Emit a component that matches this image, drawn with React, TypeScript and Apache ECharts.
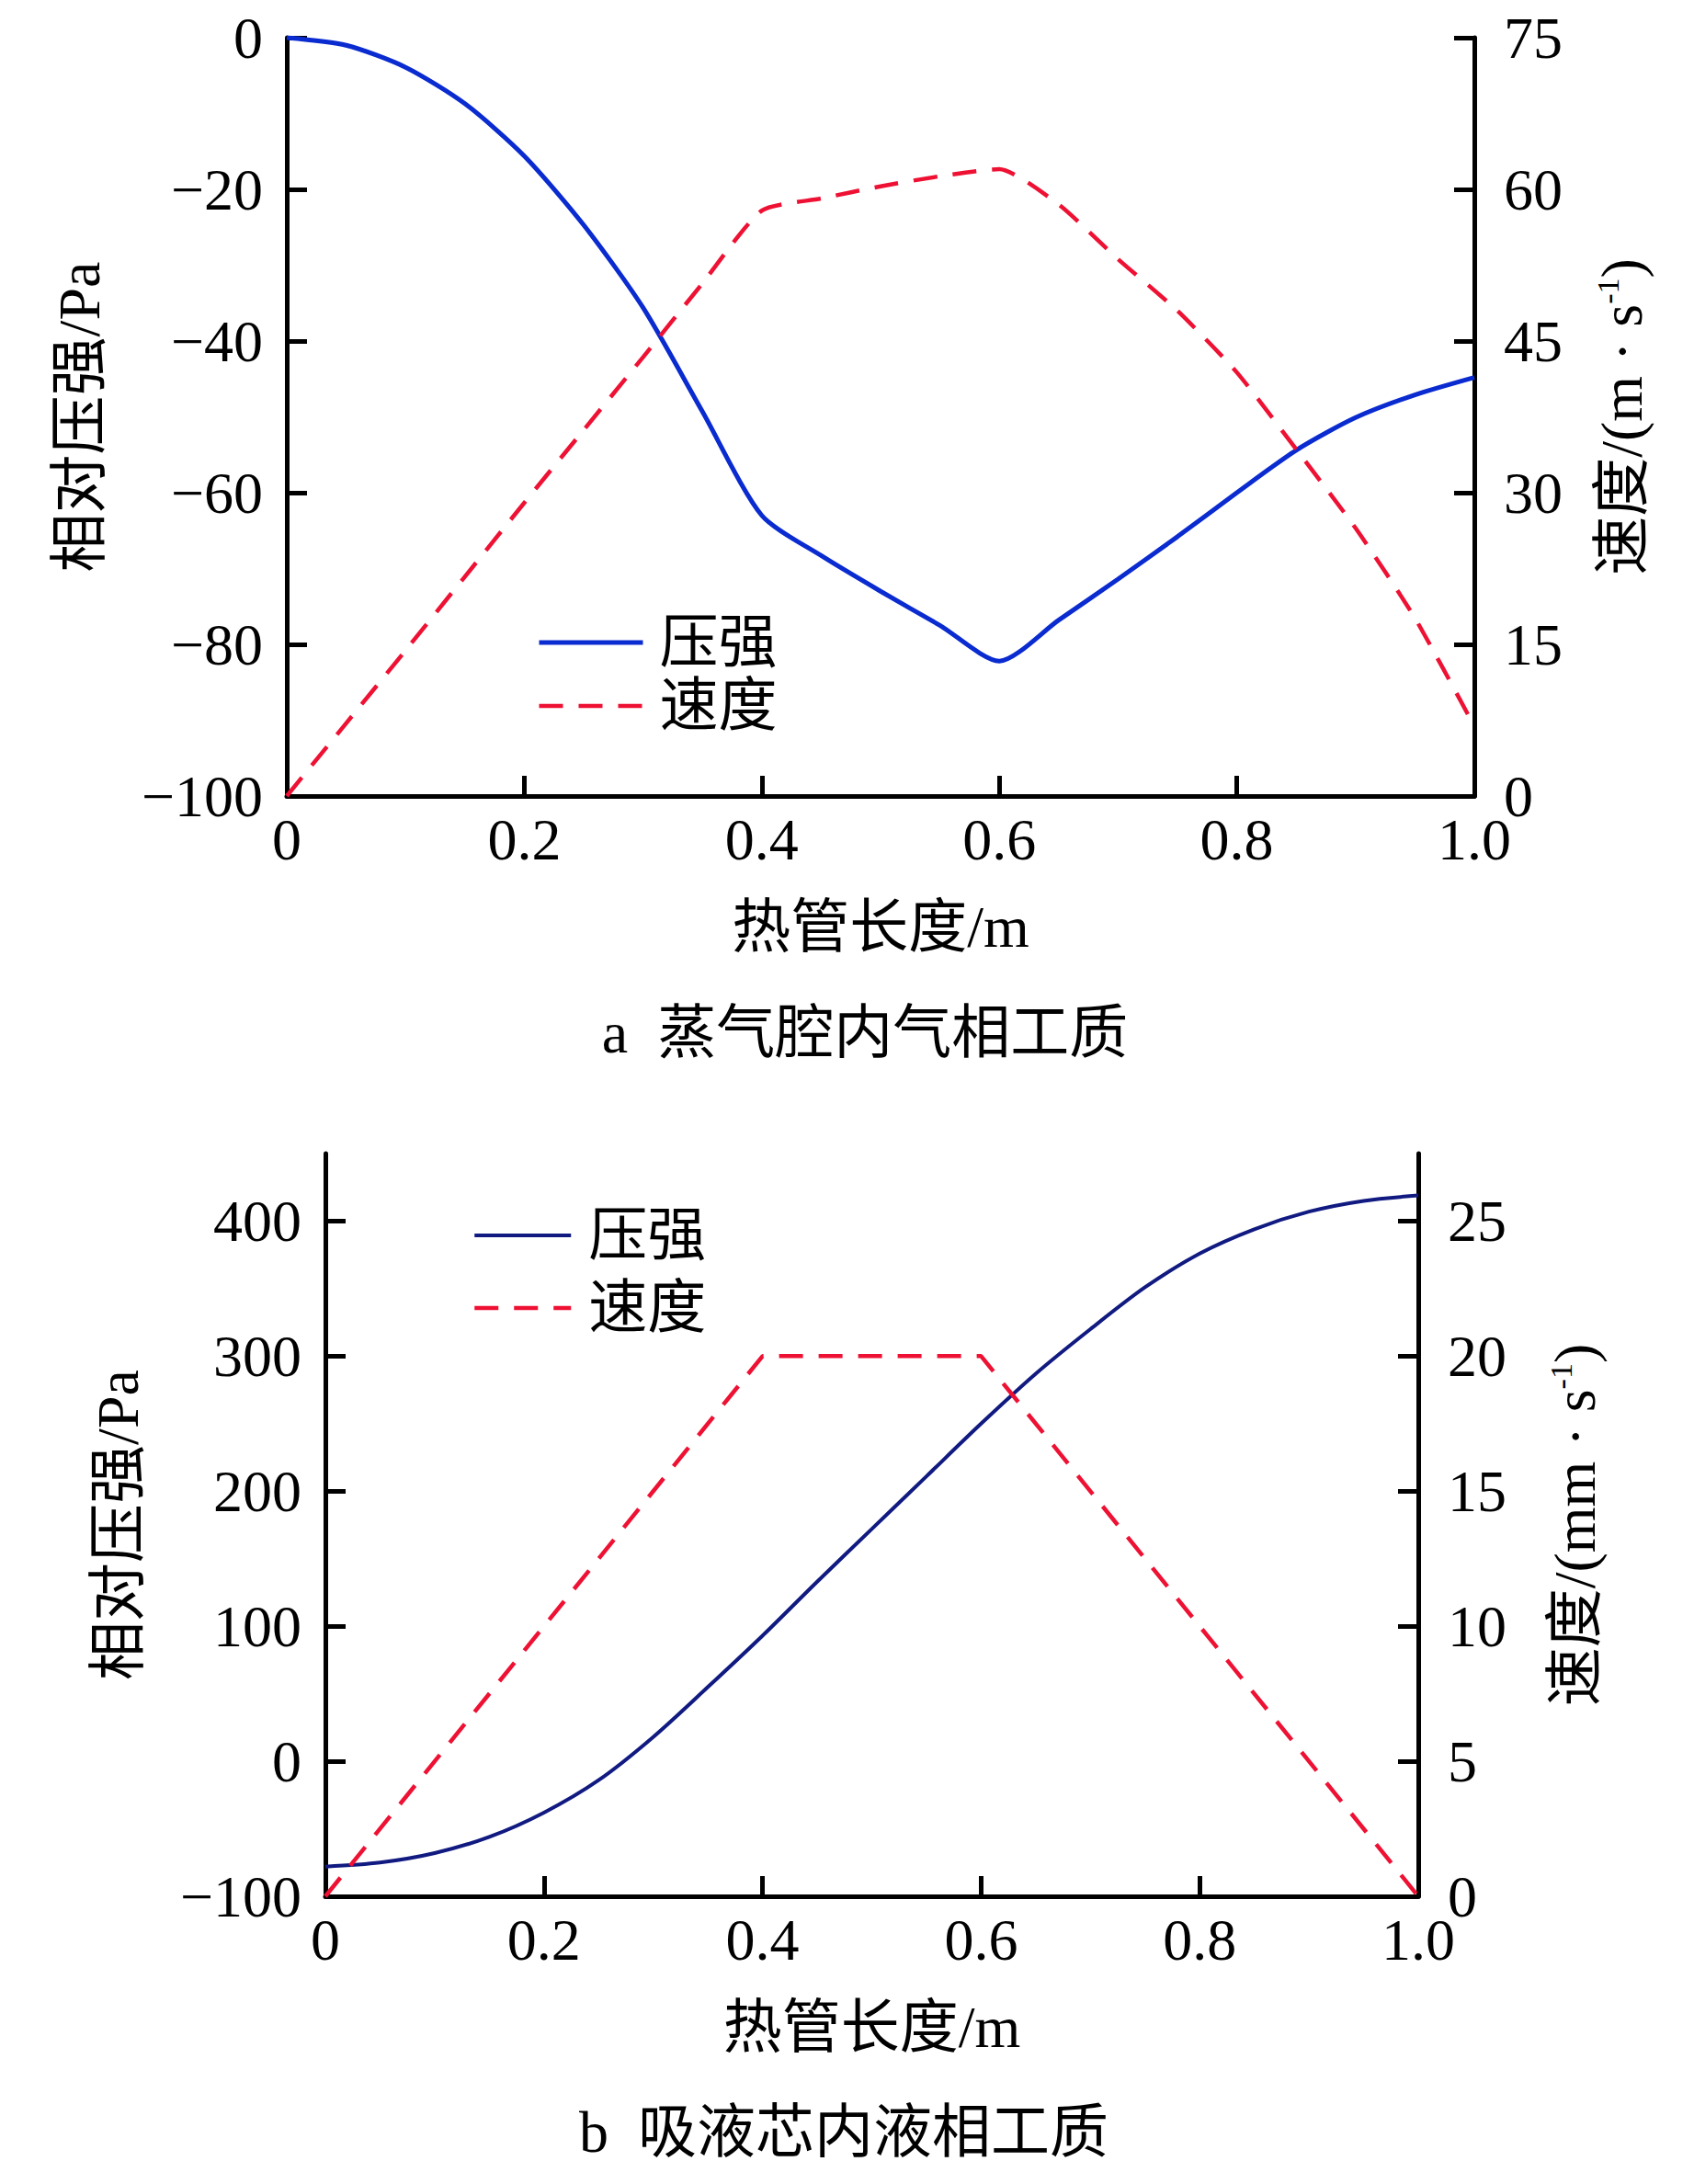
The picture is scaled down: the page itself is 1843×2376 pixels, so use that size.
import React, { useEffect, useRef } from "react";
import * as echarts from "echarts";

const FONT = "'Liberation Serif', 'Times New Roman', 'Noto Sans CJK SC', serif";

// ---- Chart a: 蒸气腔内气相工质 ----
const xA = [0, 0.05, 0.1, 0.15, 0.2, 0.25, 0.3, 0.35, 0.4, 0.45, 0.5, 0.55, 0.6, 0.65, 0.7, 0.75, 0.8, 0.85, 0.9, 0.95, 1.0];
const pressureA = [0, -1.0, -3.9, -8.7, -15.6, -24.7, -35.6, -49.3, -63.0, -68.3, -73.0, -77.5, -82.2, -76.8, -71.4, -65.8, -60.0, -54.4, -50.1, -47.1, -44.8];
const velocityA = [0, 7.2, 14.4, 21.7, 29.0, 36.2, 43.4, 50.7, 57.9, 59.1, 60.3, 61.3, 62.0, 58.5, 53.1, 48.0, 41.9, 34.3, 26.5, 17.6, 6.9];
const yTicksLeftA = [-100, -80, -60, -40, -20, 0];
const yTicksRightA = [0, 15, 30, 45, 60, 75];

// ---- Chart b: 吸液芯内液相工质 ----
const xB = [0, 0.05, 0.1, 0.15, 0.2, 0.25, 0.3, 0.35, 0.4, 0.45, 0.5, 0.55, 0.6, 0.65, 0.7, 0.75, 0.8, 0.85, 0.9, 0.95, 1.0];
const pressureB = [-78, -75, -68, -56, -38, -14, 18, 55, 93, 133, 172, 211, 250, 287, 320, 351, 376, 394, 407, 415, 419];
const xVelB = [0, 0.4, 0.6, 1.0];
const velocityB = [0, 20, 20, 0];
const yTicksLeftB = [-100, 0, 100, 200, 300, 400];
const yTicksRightB = [0, 5, 10, 15, 20, 25];

const xTicks = [0, 0.2, 0.4, 0.6, 0.8, 1.0];

const zip = (xs: number[], ys: number[]) => xs.map((x, i) => [x, ys[i]]);
const minus = (v: number) => String(v).replace("-", "\u2212");

const axisLine = { show: true, onZero: false, lineStyle: { color: "#000", width: 5 } };
const axisTick = (len: number) => ({ show: true, inside: true, length: len, lineStyle: { color: "#000", width: 5 } });
const labelStyle = { fontSize: 64, fontFamily: FONT, color: "#000" };

function xAxisCfg() {
  return {
    type: "value",
    min: 0,
    max: 1,
    interval: 0.2,
    name: "热管长度/m",
    nameLocation: "middle",
    nameGap: 110,
    nameTextStyle: { ...labelStyle },
    axisLine,
    axisTick: { ...axisTick(22), customValues: xTicks },
    axisLabel: {
      ...labelStyle,
      margin: 15,
      customValues: xTicks,
      formatter: (v: number) => (v === 0 ? "0" : v.toFixed(1)),
    },
    splitLine: { show: false },
  };
}

function yAxisCfg(opts: any) {
  return {
    type: "value",
    position: opts.position,
    min: opts.min,
    max: opts.max,
    name: opts.name,
    nameLocation: "middle",
    nameRotate: 90,
    nameGap: opts.nameGap,
    nameTextStyle: {
      ...labelStyle,
      rich: {
        n: { ...labelStyle },
        sup: { fontSize: 34, fontFamily: FONT, color: "#000", verticalAlign: "top", lineHeight: 30 },
      },
    },
    axisLine,
    axisTick: { ...axisTick(22), customValues: opts.ticks },
    axisLabel: { ...labelStyle, margin: opts.margin, customValues: opts.ticks, formatter: (v: number) => minus(v) },
    splitLine: { show: false },
  };
}

function legendCfg(left: number, top: number, w: number, gap: number, pad: number, solidColor: string, solidWidth: number) {
  return {
    orient: "vertical",
    left,
    top,
    itemWidth: w,
    itemHeight: 20,
    itemGap: gap,
    itemStyle: { opacity: 0 },
    textStyle: { ...labelStyle, padding: [0, 0, 0, pad] },
    data: [
      { name: "压强", lineStyle: { color: solidColor, width: solidWidth, type: "solid", opacity: 1 } },
      { name: "速度", lineStyle: { color: "#ee1133", width: 4.5, type: [26, 17], opacity: 1 } },
    ],
  };
}

function optionA() {
  return {
    animation: false,
    grid: { left: 312, width: 1292, top: 41, height: 825, containLabel: false },
    legend: legendCfg(579, 662, 113, 5, 13, "#0a2bd0", 5),
    xAxis: xAxisCfg(),
    yAxis: [
      yAxisCfg({ position: "left", min: -100, max: 0, ticks: yTicksLeftA, name: "相对压强/Pa", nameGap: 194, margin: 26 }),
      yAxisCfg({ position: "right", min: 0, max: 75, ticks: yTicksRightA, name: "速度/(m · s{sup|-1})", nameGap: 128, margin: 32 }),
    ],
    series: [
      {
        name: "压强",
        type: "line",
        yAxisIndex: 0,
        data: zip(xA, pressureA),
        symbol: "none",
        smooth: 0.25,
        lineStyle: { color: "#0a2bd0", width: 5 },
        itemStyle: { color: "#0a2bd0" },
      },
      {
        name: "速度",
        type: "line",
        yAxisIndex: 1,
        data: zip(xA, velocityA),
        symbol: "none",
        smooth: 0.2,
        lineStyle: { color: "#ee1133", width: 4.5, type: [26, 17] },
        itemStyle: { color: "#ee1133" },
      },
    ],
    graphic: [
      {
        type: "text",
        x: 941,
        y: 1123,
        style: { text: "a\u00a0\u00a0蒸气腔内气相工质", fontSize: 64, fontFamily: FONT, fill: "#000", align: "center", verticalAlign: "middle" },
      },
    ],
  };
}

function optionB() {
  return {
    animation: false,
    grid: { left: 354, width: 1189, top: 67, height: 808, containLabel: false },
    legend: legendCfg(509, 119, 105, 15, 14, "#101a80", 4),
    xAxis: xAxisCfg(),
    yAxis: [
      yAxisCfg({ position: "left", min: -100, max: 450, ticks: yTicksLeftB, name: "相对压强/Pa", nameGap: 194, margin: 26 }),
      yAxisCfg({ position: "right", min: 0, max: 27.5, ticks: yTicksRightB, name: "速度/(mm · s{sup|-1})", nameGap: 138, margin: 32 }),
    ],
    series: [
      {
        name: "压强",
        type: "line",
        yAxisIndex: 0,
        data: zip(xB, pressureB),
        symbol: "none",
        smooth: 0.3,
        lineStyle: { color: "#101a80", width: 4 },
        itemStyle: { color: "#101a80" },
      },
      {
        name: "速度",
        type: "line",
        yAxisIndex: 1,
        data: zip(xVelB, velocityB),
        symbol: "none",
        smooth: false,
        lineStyle: { color: "#ee1133", width: 4.5, type: [26, 17] },
        itemStyle: { color: "#ee1133" },
      },
    ],
    graphic: [
      {
        type: "text",
        x: 918,
        y: 1131,
        style: { text: "b\u00a0\u00a0吸液芯内液相工质", fontSize: 64, fontFamily: FONT, fill: "#000", align: "center", verticalAlign: "middle" },
      },
    ],
  };
}

function Chart({ option, top }: { option: any; top: number }) {
  const ref = useRef<HTMLDivElement>(null);
  useEffect(() => {
    if (!ref.current) return;
    const chart = echarts.init(ref.current, undefined, { renderer: "svg" });
    chart.setOption(option);
    return () => chart.dispose();
  }, [option]);
  return <div ref={ref} style={{ position: "absolute", left: 0, top, width: 1843, height: 1188 }} />;
}

const OPT_A = optionA();
const OPT_B = optionB();

export default function App() {
  return (
    <div style={{ position: "absolute", left: 0, top: 0, width: 1843, height: 2376, background: "#fff" }}>
      <Chart option={OPT_A} top={0} />
      <Chart option={OPT_B} top={1188} />
    </div>
  );
}
